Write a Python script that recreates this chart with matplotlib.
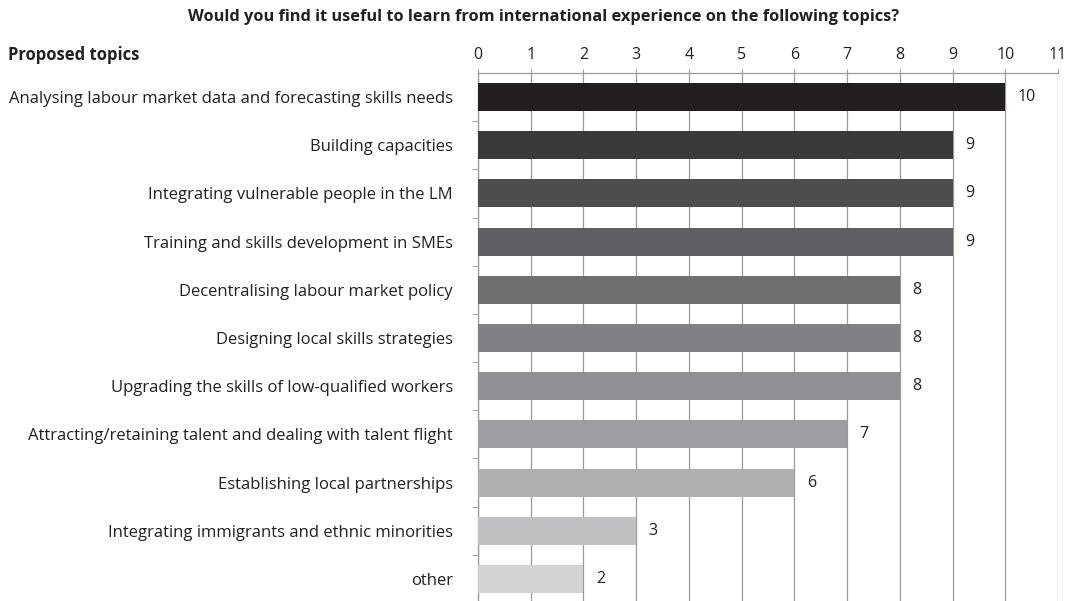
import matplotlib
matplotlib.use('Agg')
import matplotlib.pyplot as plt
from matplotlib.ticker import MultipleLocator

topics = [
    'Analysing labour market data and forecasting skills needs',
    'Building capacities',
    'Integrating vulnerable people in the LM',
    'Training and skills development in SMEs',
    'Decentralising labour market policy',
    'Designing local skills strategies',
    'Upgrading the skills of low-qualified workers',
    'Attracting/retaining talent and dealing with talent flight',
    'Establishing local partnerships',
    'Integrating immigrants and ethnic minorities',
    'other',
]
counts = [10, 9, 9, 9, 8, 8, 8, 7, 6, 3, 2]
shades = ['#231f20', '#3a3a3c', '#4d4d4f', '#5e5f62', '#6e6f71', '#808184',
          '#8f9093', '#9d9ea1', '#aeafb1', '#c0c1c3', '#d1d2d4']

plt.rcParams['font.family'] = ['Open Sans', 'DejaVu Sans']
grid_col = '#9a9a9a'
txt = '#231f20'

fig = plt.figure(figsize=(10.65, 6.01), dpi=100)
ax = fig.add_axes([478 / 1065, 1 - 603 / 601, 580 / 1065, 530 / 601])

ypos = list(range(len(topics)))
ax.barh(ypos, counts, height=0.58, color=shades, zorder=3)
for y, v in zip(ypos, counts):
    ax.annotate(str(v), (v, y), xytext=(9, 0), textcoords='offset points',
                va='center', ha='left', fontsize=11.5, color=txt)

ax.set_xlim(0, 11)
ax.set_ylim(len(topics) - 0.5, -0.5)
ax.xaxis.set_major_locator(MultipleLocator(1))
ax.xaxis.tick_top()
ax.tick_params(axis='x', length=3, color=grid_col, labelsize=11.5,
               labelcolor=txt, pad=4)
for x in range(0, 12):
    ax.axvline(x, color=grid_col, lw=0.9, zorder=1)

ax.set_yticks(ypos)
ax.set_yticklabels(topics, fontsize=12, color=txt)
ax.tick_params(axis='y', which='major', length=0, pad=18)
ax.set_yticks([i + 0.5 for i in ypos[:-1]], minor=True)
ax.tick_params(axis='y', which='minor', length=4, color=grid_col)

for side in ('right', 'bottom'):
    ax.spines[side].set_visible(False)
for side in ('left', 'top'):
    ax.spines[side].set_color(grid_col)
    ax.spines[side].set_linewidth(0.9)

fig.text(544 / 1065, 1 - 17 / 601,
         'Would you find it useful to learn from international experience on the following topics?',
         ha='center', va='center', fontsize=11.8, fontweight='bold', color=txt)
fig.text(8 / 1065, 1 - 55 / 601, 'Proposed topics', ha='left', va='center',
         fontsize=12, fontweight='bold', color=txt)

fig.savefig('out.png', dpi=100)
